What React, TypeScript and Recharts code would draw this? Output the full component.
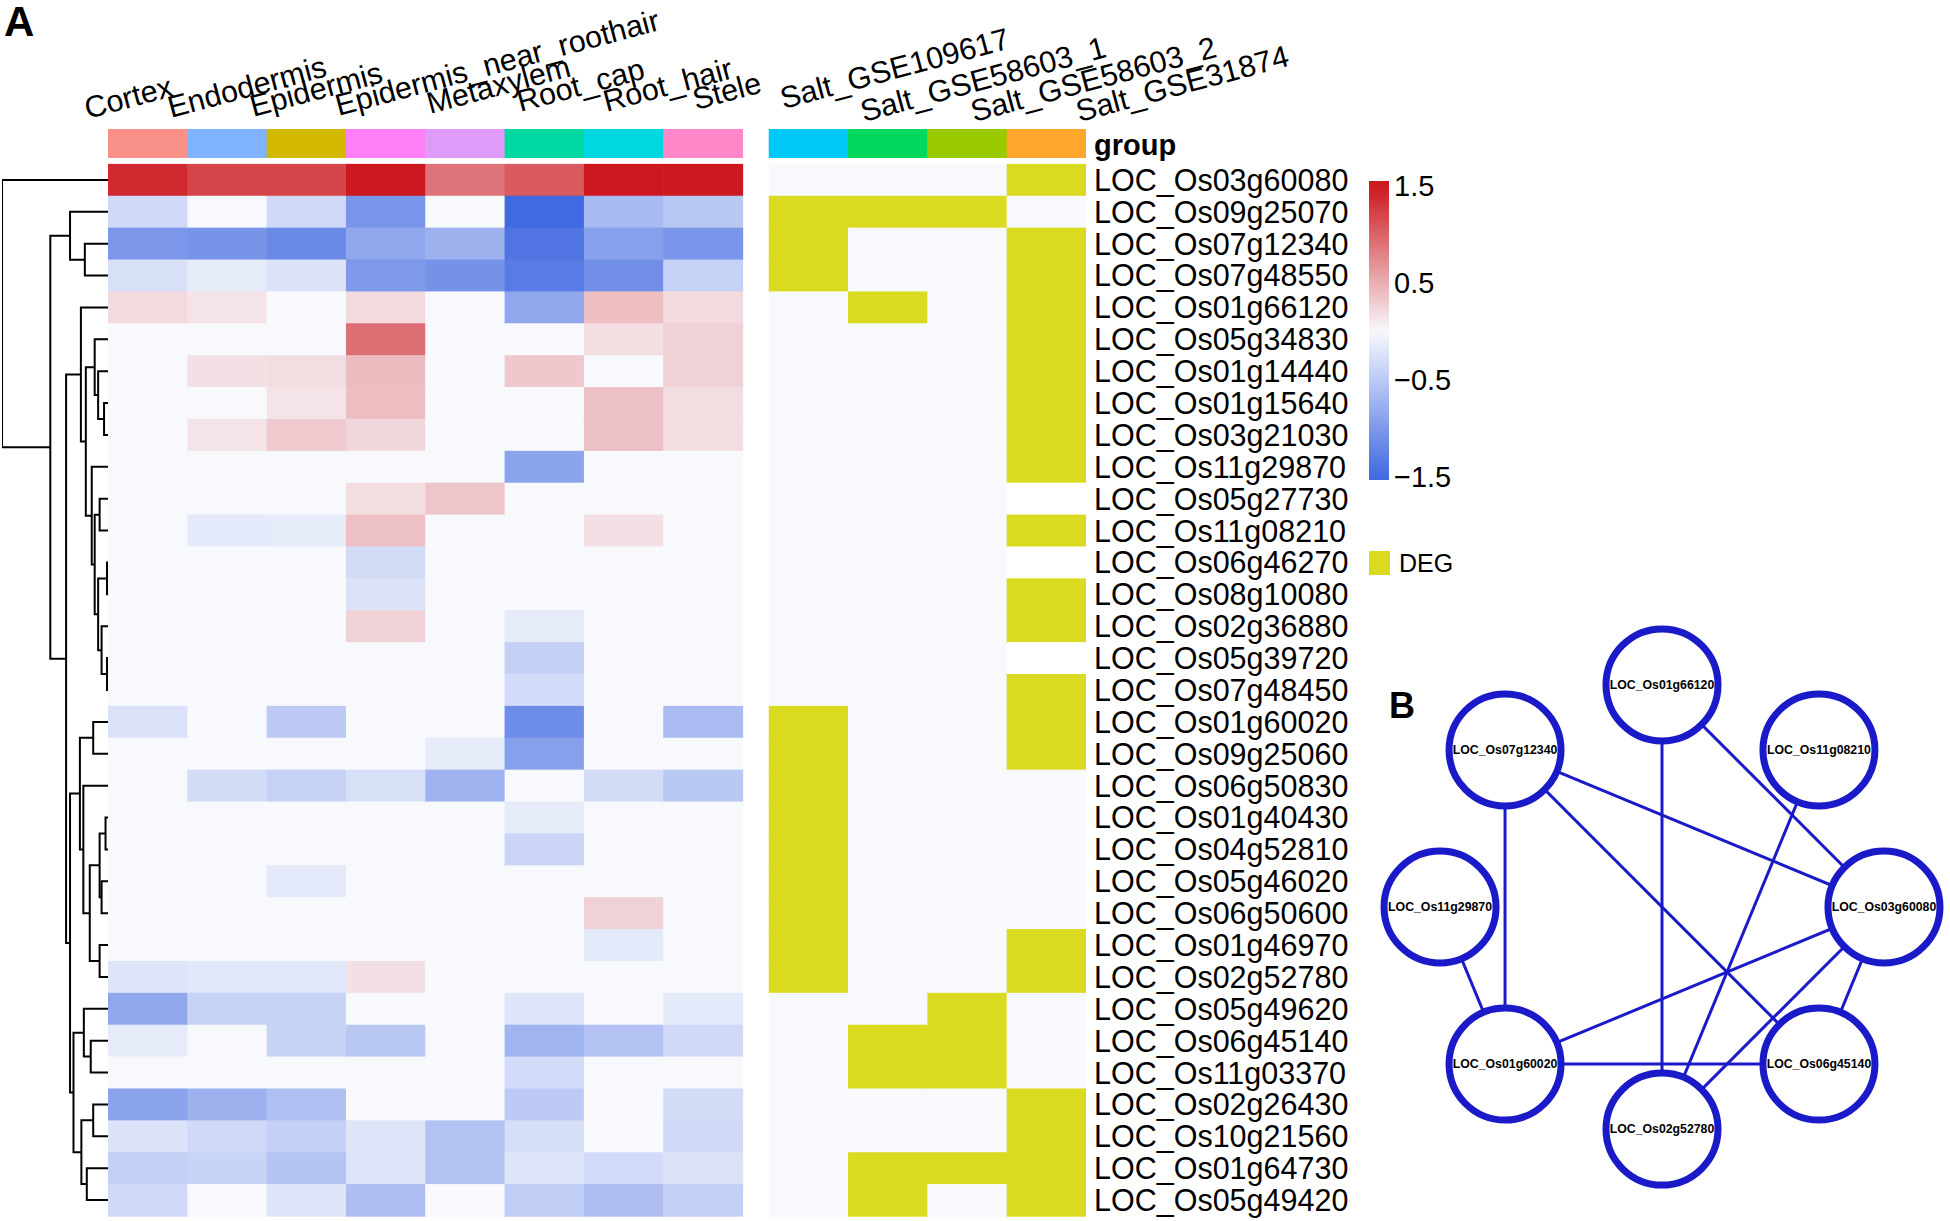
import React from "react";
import { Bar, BarChart, Legend, Scatter, ScatterChart, XAxis, YAxis } from "recharts";

const FONT = '"Liberation Sans", Arial, sans-serif';

const genes = [
  "LOC_Os03g60080", "LOC_Os09g25070", "LOC_Os07g12340", "LOC_Os07g48550", "LOC_Os01g66120",
  "LOC_Os05g34830", "LOC_Os01g14440", "LOC_Os01g15640", "LOC_Os03g21030", "LOC_Os11g29870",
  "LOC_Os05g27730", "LOC_Os11g08210", "LOC_Os06g46270", "LOC_Os08g10080", "LOC_Os02g36880",
  "LOC_Os05g39720", "LOC_Os07g48450", "LOC_Os01g60020", "LOC_Os09g25060", "LOC_Os06g50830",
  "LOC_Os01g40430", "LOC_Os04g52810", "LOC_Os05g46020", "LOC_Os06g50600", "LOC_Os01g46970",
  "LOC_Os02g52780", "LOC_Os05g49620", "LOC_Os06g45140", "LOC_Os11g03370", "LOC_Os02g26430",
  "LOC_Os10g21560", "LOC_Os01g64730", "LOC_Os05g49420",
];

const tissues = ["Cortex", "Endodermis", "Epidermis", "Epidermis_near_roothair", "Metaxylem", "Root_cap", "Root_hair", "Stele"];
const datasets = ["Salt_GSE109617", "Salt_GSE58603_1", "Salt_GSE58603_2", "Salt_GSE31874"];
const tissueColors = ["#F99189", "#80B3FF", "#D2B900", "#FF80F6", "#E09BF8", "#00D8A2", "#00D7E1", "#FF86C9"];
const datasetColors = ["#00C9F7", "#00D75E", "#99CB00", "#FFA62B"];

// scaled expression per gene (rows follow genes, columns follow tissues)
const expression = [
  [1.38, 1.21, 1.21, 1.5, 0.89, 1.06, 1.5, 1.5],
  [-0.33, 0, -0.33, -1.03, 0, -1.5, -0.66, -0.52],
  [-1.02, -1.05, -1.16, -0.85, -0.75, -1.38, -0.93, -1.03],
  [-0.26, -0.15, -0.23, -1.0, -1.07, -1.31, -1.1, -0.41],
  [0.21, 0.14, 0, 0.21, 0, -0.85, 0.39, 0.21],
  [0, 0, 0, 0.93, 0, 0, 0.18, 0.27],
  [0, 0.17, 0.19, 0.41, 0, 0.33, 0, 0.27],
  [0, 0, 0.14, 0.39, 0, 0, 0.38, 0.19],
  [0, 0.14, 0.31, 0.23, 0, 0, 0.38, 0.19],
  [0, 0, 0, 0, 0, -0.89, 0, 0],
  [0, 0, 0, 0.18, 0.34, 0, 0, 0],
  [0, -0.16, -0.15, 0.38, 0, 0, 0.17, 0],
  [0, 0, 0, -0.3, 0, 0, 0, 0],
  [0, 0, 0, -0.23, 0, 0, 0, 0],
  [0, 0, 0, 0.27, 0, -0.15, 0, 0],
  [0, 0, 0, 0, 0, -0.43, 0, 0],
  [0, 0, 0, 0, 0, -0.31, 0, 0],
  [-0.25, 0, -0.49, 0, 0, -1.13, 0, -0.64],
  [0, 0, 0, 0, -0.15, -0.93, 0, 0],
  [0, -0.3, -0.41, -0.26, -0.74, 0, -0.3, -0.52],
  [0, 0, 0, 0, 0, -0.15, 0, 0],
  [0, 0, 0, 0, 0, -0.38, 0, 0],
  [0, 0, -0.16, 0, 0, 0, 0, 0],
  [0, 0, 0, 0, 0, 0, 0.27, 0],
  [0, 0, 0, 0, 0, 0, -0.16, 0],
  [-0.21, -0.18, -0.18, 0.17, 0, 0, 0, 0],
  [-0.85, -0.39, -0.39, 0, 0, -0.21, 0, -0.16],
  [-0.15, 0, -0.39, -0.52, 0, -0.72, -0.56, -0.33],
  [0, 0, 0, 0, 0, -0.31, 0, 0],
  [-0.9, -0.75, -0.59, 0, 0, -0.48, 0, -0.3],
  [-0.23, -0.33, -0.43, -0.21, -0.57, -0.28, 0, -0.33],
  [-0.43, -0.39, -0.56, -0.21, -0.57, -0.21, -0.31, -0.23],
  [-0.33, 0, -0.2, -0.61, 0, -0.46, -0.61, -0.43],
];

// 1 = DEG, 0 = not DEG, null = missing
const deg = [
  [0, 0, 0, 1], [1, 1, 1, 0], [1, 0, 0, 1], [1, 0, 0, 1], [0, 1, 0, 1],
  [0, 0, 0, 1], [0, 0, 0, 1], [0, 0, 0, 1], [0, 0, 0, 1], [0, 0, 0, 1],
  [0, 0, 0, null], [0, 0, 0, 1], [0, 0, 0, null], [0, 0, 0, 1], [0, 0, 0, 1],
  [0, 0, 0, null], [0, 0, 0, 1], [1, 0, 0, 1], [1, 0, 0, 1], [1, 0, 0, 0],
  [1, 0, 0, 0], [1, 0, 0, 0], [1, 0, 0, 0], [1, 0, 0, 0], [1, 0, 0, 1],
  [1, 0, 0, 1], [0, 0, 1, 0], [0, 1, 1, 0], [0, 1, 1, 0], [0, 0, 0, 1],
  [0, 0, 0, 1], [0, 1, 1, 1], [0, 1, 0, 1],
];

// row dendrogram, hclust style: negative = leaf (row number), positive = earlier merge
const merges = [
  [-8, -9, 8], [-7, 1, 20], [-6, 2, 27], [-13, -14, 2], [-16, -17, 2],
  [-15, 5, 13], [4, 6, 20], [-11, -12, 17], [8, 7, 27], [-10, 9, 33],
  [3, 10, 45], [-5, 11, 55], [-3, -4, 47], [-2, 13, 77], [-18, -19, 30],
  [-21, -22, 5], [-23, -24, 13], [16, 17, 17], [-25, -26, 17], [18, 19, 37],
  [-20, 20, 50], [15, 21, 57], [-28, -29, 35], [-27, 23, 49], [-30, -31, 30],
  [-32, -33, 43], [25, 26, 54], [24, 27, 70], [22, 28, 77], [12, 29, 85],
  [14, 30, 117], [-1, 31, 215],
];
const DENDRO_MAX = 215;

// network (circular layout, counter-clockwise from the right)
const networkNodes = [
  "LOC_Os03g60080", "LOC_Os11g08210", "LOC_Os01g66120", "LOC_Os07g12340",
  "LOC_Os11g29870", "LOC_Os01g60020", "LOC_Os02g52780", "LOC_Os06g45140",
];
const networkEdges = [
  ["LOC_Os07g12340", "LOC_Os01g60020"], ["LOC_Os07g12340", "LOC_Os03g60080"],
  ["LOC_Os07g12340", "LOC_Os06g45140"], ["LOC_Os01g66120", "LOC_Os02g52780"],
  ["LOC_Os01g66120", "LOC_Os03g60080"], ["LOC_Os11g08210", "LOC_Os02g52780"],
  ["LOC_Os11g29870", "LOC_Os01g60020"], ["LOC_Os03g60080", "LOC_Os01g60020"],
  ["LOC_Os03g60080", "LOC_Os02g52780"], ["LOC_Os03g60080", "LOC_Os06g45140"],
  ["LOC_Os01g60020", "LOC_Os06g45140"],
];

const legendTicks = [1.5, 0.5, -0.5, -1.5];

const LOW = [65, 105, 225];
const MID = [248, 249, 253];
const HIGH = [204, 24, 30];
const DEG_COLOR = "#DADA20";
const NET_BLUE = "#1A1AC8";

const GAP = 0.33;
const TOTAL = tissues.length + GAP + datasets.length;
const colCenters = [
  ...tissues.map((_, i) => i + 0.5),
  ...datasets.map((_, i) => tissues.length + GAP + i + 0.5),
];
const colLabels = [...tissues, ...datasets];
const labelDx = [-60, -56, -53, -47, -35, -24, -17, -7, -25, -24, 7, 33];
const labelBase = [119, 118, 117, 116, 114, 112, 112, 110, 109, 122, 122, 122];
const LABEL_ANGLE = 15;

function heatColor(v) {
  if (v == null) return "#FFFFFF";
  const t = Math.max(-1, Math.min(1, v / 1.5));
  const end = t >= 0 ? HIGH : LOW;
  const a = Math.abs(t);
  const c = MID.map((m, k) => Math.round(m + (end[k] - m) * a));
  return `rgb(${c[0]},${c[1]},${c[2]})`;
}

const rows = [
  { gene: "group", group: true },
  ...genes.map((g, i) => ({ gene: g, e: expression[i], d: deg[i] })),
];

const tileShape = (kind, j) => (p) => {
  const { x, y, width, height, payload } = p;
  if (payload.group) {
    const fill = kind === "e" ? tissueColors[j] : datasetColors[j];
    return <rect x={x} y={y - 3} width={width + 0.5} height={height - 3} fill={fill} />;
  }
  let fill;
  if (kind === "e") fill = heatColor(payload.e[j]);
  else {
    const v = payload.d[j];
    fill = v == null ? "#FFFFFF" : v === 1 ? DEG_COLOR : heatColor(0);
  }
  return <rect x={x} y={y} width={width + 0.6} height={height + 0.6} fill={fill} />;
};

const ColumnTick = (props) => {
  const v = props.payload.value;
  let i = 0;
  colCenters.forEach((c, k) => {
    if (Math.abs(c - v) < Math.abs(colCenters[i] - v)) i = k;
  });
  const x = props.x + labelDx[i];
  const y = labelBase[i];
  return (
    <text x={x} y={y} transform={`rotate(-${LABEL_ANGLE} ${x} ${y})`} fontSize={30.5} fontFamily={FONT} fill="#000">
      {colLabels[i]}
    </text>
  );
};

const GeneTick = (props) => {
  const label = props.payload.value;
  const isGroup = label === "group";
  return (
    <text
      x={props.x}
      y={props.y + (isGroup ? -3 : 0)}
      dominantBaseline="central"
      fontSize={isGroup ? 29 : 30.5}
      fontWeight={isGroup ? "bold" : "normal"}
      fontFamily={FONT}
      fill="#000"
    >
      {label}
    </text>
  );
};

const fmt = (v) => (v < 0 ? `\u2212${Math.abs(v)}` : `${v}`);

const ScaleLegend = () => {
  const stops = [];
  for (let k = 0; k <= 20; k++) {
    const o = k / 20;
    const v = 1.5 - (299 * o - 5) / 97;
    stops.push(<stop key={k} offset={o} stopColor={heatColor(v)} />);
  }
  return (
    <svg width={200} height={420} style={{ display: "block" }}>
      <defs>
        <linearGradient id="zgrad" x1="0" y1="0" x2="0" y2="1">
          {stops}
        </linearGradient>
      </defs>
      <rect x={9} y={11} width={20} height={299} fill="url(#zgrad)" />
      {legendTicks.map((v) => (
        <text key={v} x={34} y={16 + (1.5 - v) * 97} dominantBaseline="central" fontSize={29} fontFamily={FONT} fill="#000">
          {fmt(v)}
        </text>
      ))}
      <rect x={9} y={381} width={21} height={24} fill={DEG_COLOR} />
      <text x={39} y={393} dominantBaseline="central" fontSize={25} fontFamily={FONT} fill="#000">
        DEG
      </text>
    </svg>
  );
};

function dendroBrackets() {
  const pos = [];
  const at = (id) => (id < 0 ? { h: 0, y: -id - 0.5 } : pos[id - 1]);
  return merges.map(([a, b, h]) => {
    const A = at(a);
    const B = at(b);
    pos.push({ h, y: (A.y + B.y) / 2 });
    return [
      { x: A.h, y: A.y },
      { x: h, y: A.y },
      { x: h, y: B.y },
      { x: B.h, y: B.y },
    ];
  });
}

const nodePoints = networkNodes.map((name, k) => ({
  name,
  x: Math.cos((k * Math.PI) / 4),
  y: Math.sin((k * Math.PI) / 4),
}));
const nodeByName = Object.fromEntries(nodePoints.map((n) => [n.name, n]));

const NodeShape = (props) => (
  <g>
    <circle cx={props.cx} cy={props.cy} r={56} fill="#fff" stroke={NET_BLUE} strokeWidth={7} />
    <text
      x={props.cx}
      y={props.cy}
      textAnchor="middle"
      dominantBaseline="central"
      fontSize={12.3}
      fontWeight="bold"
      fontFamily={FONT}
      fill="#000"
    >
      {props.payload.name}
    </text>
  </g>
);

const Empty = () => <g />;

export default function App() {
  const brackets = dendroBrackets();
  return (
    <div style={{ position: "absolute", left: 0, top: 0, width: 1950, height: 1221, background: "#fff", fontFamily: FONT }}>
      <div style={{ position: "absolute", left: 0, top: 0 }}>
        <BarChart
          width={1600}
          height={1221}
          data={rows}
          layout="vertical"
          barCategoryGap={0}
          barGap={0}
          margin={{ top: 0, right: 254, bottom: 5, left: 108 }}
        >
          <XAxis
            type="number"
            orientation="top"
            domain={[0, TOTAL]}
            allowDataOverflow
            ticks={colCenters}
            interval={0}
            height={132}
            axisLine={false}
            tickLine={false}
            tick={ColumnTick}
          />
          <YAxis
            type="category"
            dataKey="gene"
            orientation="right"
            width={260}
            interval={0}
            axisLine={false}
            tickLine={false}
            tick={GeneTick}
          />
          {tissues.map((t, j) => (
            <Bar key={t} dataKey={() => 1} stackId="s" shape={tileShape("e", j)} isAnimationActive={false} />
          ))}
          <Bar key="gap" dataKey={() => GAP} stackId="s" shape={Empty} isAnimationActive={false} />
          {datasets.map((t, j) => (
            <Bar key={t} dataKey={() => 1} stackId="s" shape={tileShape("d", j)} isAnimationActive={false} />
          ))}
          <Legend
            layout="horizontal"
            verticalAlign="middle"
            align="center"
            content={<ScaleLegend />}
            wrapperStyle={{ left: 1360, top: 170, width: 200, height: 420 }}
          />
        </BarChart>
      </div>

      <div style={{ position: "absolute", left: 0, top: 0 }}>
        <ScatterChart width={108} height={1221} margin={{ top: 164, right: 0, bottom: 5, left: 2 }}>
          <XAxis type="number" dataKey="x" domain={[0, DENDRO_MAX]} reversed hide allowDataOverflow />
          <YAxis type="number" dataKey="y" domain={[0, genes.length]} reversed hide allowDataOverflow />
          {brackets.map((pts, k) => (
            <Scatter
              key={k}
              data={pts}
              line={{ stroke: "#000", strokeWidth: 2 }}
              shape={Empty}
              isAnimationActive={false}
            />
          ))}
        </ScatterChart>
      </div>

      <div style={{ position: "absolute", left: 1377, top: 593 }}>
        <ScatterChart width={570} height={628} margin={{ top: 0, right: 0, bottom: 0, left: 0 }}>
          <XAxis type="number" dataKey="x" domain={[-1.284, 1.284]} hide allowDataOverflow />
          <YAxis type="number" dataKey="y" domain={[-1.414, 1.414]} hide allowDataOverflow />
          {networkEdges.map(([a, b], k) => (
            <Scatter
              key={`e${k}`}
              data={[nodeByName[a], nodeByName[b]]}
              line={{ stroke: NET_BLUE, strokeWidth: 3 }}
              shape={Empty}
              isAnimationActive={false}
            />
          ))}
          <Scatter data={nodePoints} shape={NodeShape} isAnimationActive={false} />
        </ScatterChart>
      </div>

      <div style={{ position: "absolute", left: 4, top: 1, fontSize: 42, lineHeight: 1, fontWeight: "bold" }}>A</div>
      <div style={{ position: "absolute", left: 1389, top: 688, fontSize: 36, lineHeight: 1, fontWeight: "bold" }}>B</div>
    </div>
  );
}
